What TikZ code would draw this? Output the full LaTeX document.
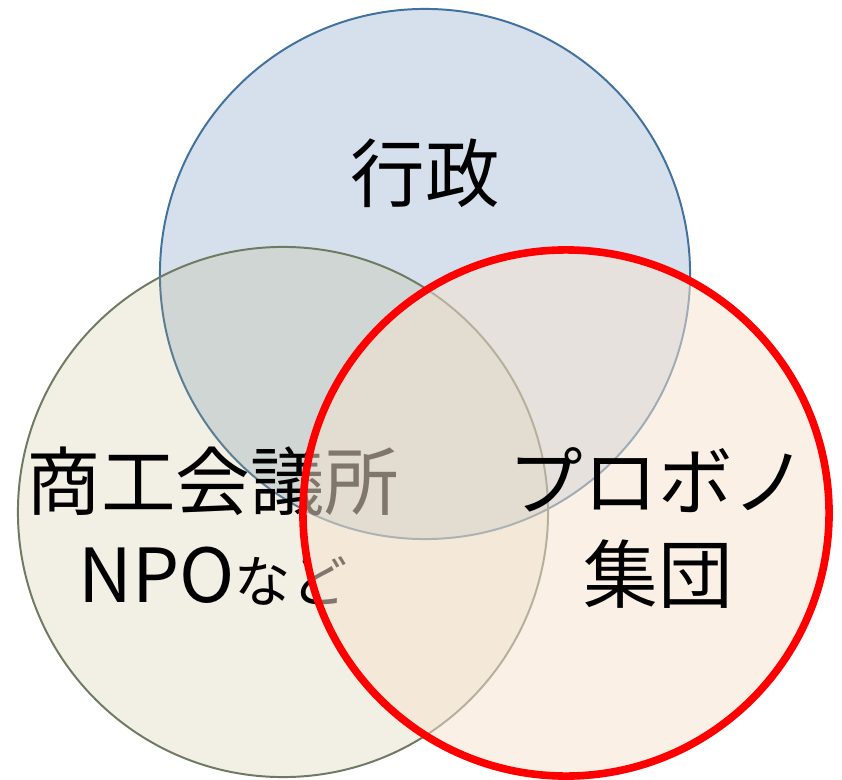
\documentclass[tikz,border=0pt]{standalone}
\usepackage{fontspec}
\setmainfont{Noto Sans CJK JP}
\usetikzlibrary{
	positioning,
	calc
}
\definecolor{govfill}{RGB}{213,224,236}
\definecolor{govline}{RGB}{65,113,156}
\definecolor{cciFill}{RGB}{190,175,120}
\definecolor{cciline}{RGB}{110,122,98}
\definecolor{probonofill}{RGB}{246,227,208}

\begin{document}
\begin{tikzpicture}[
		x=0.025cm, y=0.025cm,
		venn/.style={
			circle,
			inner sep=0pt,
			minimum size=13.25cm
		},
		venntext/.style={
			align=center,
			inner sep=0pt,
			font=\fontsize{53}{66}\selectfont
		}
	]
		\useasboundingbox (0,0) rectangle (842,779);
		
		\node[venn, fill=govfill, draw=govline, line width=1.4pt] (G) at (425,505) {};
		\node[venntext] (GT) at (425,606) {行政};
		
		\node[venn, fill=cciFill, fill opacity=0.2, draw=cciline, line width=1.4pt] (C) at (283,267) {};
		\node[venntext] (CT) at (213,253) {商工会議所\\NPO{\fontsize{40}{40}\selectfont など}};
		
		\node[venn, minimum size=13.15cm, fill=probonofill, fill opacity=0.52, draw=red, line width=0.19cm] (P) at (566,266) {};
		\node[venntext] (PT) at (658,251) {プロボノ\\集団};
	\end{tikzpicture}
\end{document}
